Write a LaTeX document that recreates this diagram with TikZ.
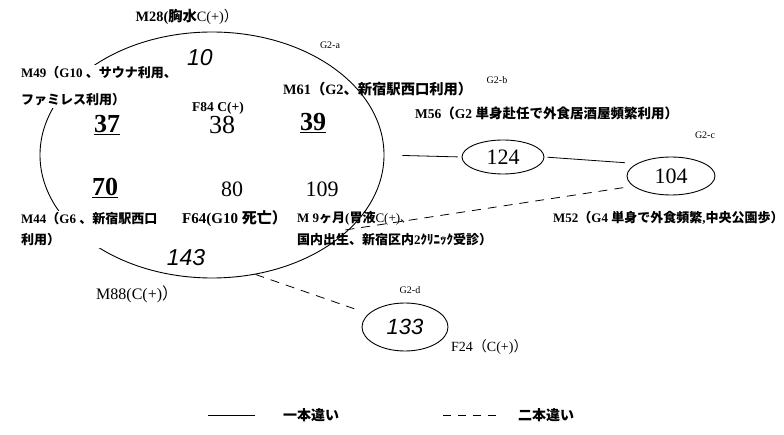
\documentclass[tikz,border=0pt]{standalone}
\usepackage{fontspec}
\setmainfont{Liberation Serif}
\newfontfamily\jp{Noto Sans CJK JP}
\newfontfamily\asf{Liberation Sans}
\usetikzlibrary{shapes.geometric}
\newcommand\J[1]{{\jp #1}}
\newcommand\fs[1]{\fontsize{#1}{#1}\selectfont}
\newcommand\fsb[2]{\fontsize{#1}{#2}\selectfont}
\begin{document}
\begin{tikzpicture}[x=1pt,y=-1pt,
  lbl/.style={inner sep=0pt, font=\fs{13.5}\bfseries, anchor=west},
  lblr/.style={inner sep=0pt, font=\fs{14}, anchor=west},
  grp/.style={inner sep=0pt, font=\fs{10}},
  bignum/.style={inner sep=0pt, font=\fs{26}},
  midnum/.style={inner sep=0pt, font=\fs{22}},
  itnum/.style={inner sep=0pt, font=\asf\itshape\fs{23}},
  oval/.style={ellipse, draw, line width=0.9pt, inner sep=0pt},
  conn/.style={line width=0.8pt},
  dconn/.style={line width=0.8pt, dash pattern=on 9pt off 7pt},
  legtext/.style={inner sep=0pt, font=\jp\bfseries\fs{14}, anchor=west}
]
\useasboundingbox (0,0) rectangle (784,435);

% ovals
\node[oval, minimum width=344pt, minimum height=246pt] (big) at (212,155) {};
\node[oval, minimum width=82pt, minimum height=34pt] (n124) at (503,157) {};
\node[oval, minimum width=88pt, minimum height=38pt] (n104) at (671,176) {};
\node[oval, minimum width=86pt, minimum height=48pt] (n133) at (405,327) {};

% numbers
\node[itnum] (t10) at (200,58) {10};
\node[bignum, font=\fs{26}\bfseries] (t37) at (107,125) {\underline{37}};
\node[bignum] (t38) at (222,125) {38};
\node[bignum, font=\fs{26}\bfseries] (t39) at (313,123) {\underline{39}};
\node[bignum, font=\fs{26}\bfseries] (t70) at (105,188) {\underline{70}};
\node[midnum] (t80) at (232,189) {80};
\node[midnum] (t109) at (322,189) {109};
\node[itnum] (t143) at (186,258) {143};
\node[midnum] (t124) at (n124) {124};
\node[midnum] (t104) at (n104) {104};
\node[itnum, font=\asf\itshape\fs{22}] (t133) at (n133) {133};

% group labels
\node[grp] (ga) at (330,45) {G2-a};
\node[grp] (gb) at (497,80) {G2-b};
\node[grp] (gc) at (705,135) {G2-c};
\node[grp] (gd) at (410,290) {G2-d};

% labels
\node[lbl, anchor=center, font=\fs{14.3}\bfseries] (m28) at (187,17) {M28(\J{胸水}\mdseries C(+)\J{）}};
\node[lbl, fill=white, inner sep=2pt, align=left, font=\fsb{13}{27}\bfseries] (m49) at (19,86.5)
  {M49\J{（}G10 \J{、サウナ利用、}\\\J{ファミレス利用）}};
\node[lbl, anchor=center] (f84) at (218,108) {F84 C(+)};
\node[lbl, font=\fs{14.3}\bfseries] (m61) at (283,89) {M61\J{（}G2\J{、新宿駅西口利用）}};
\node[lbl, font=\fs{13.5}\bfseries] (m56) at (415,113) {M56\J{（}G2 \J{単身赴任で外食居酒屋頻繁利用）}};
\node[lbl, fill=white, inner sep=2pt, align=left, font=\fsb{13}{21}\bfseries] (m44) at (19,229.5)
  {M44\J{（}G6 \J{、新宿駅西口}\\\J{利用）}};
\node[lbl, font=\fs{15}\bfseries] (f64) at (182,219) {F64(G10 \J{死亡）}};
\node[lbl, align=left, font=\fsb{13}{22}\bfseries] (m9) at (297,229)
  {M 9\J{ヶ月}(\J{胃液}\mdseries C(+)\J{、}\\\J{国内出生、新宿区内}2\J{ｸﾘﾆｯｸ受診）}};
\node[lbl, font=\fs{13}\bfseries] (m52) at (553,218) {M52\J{（}G4 \J{単身で外食頻繁},\J{中央公園歩）}};
\node[lblr, font=\fs{16}] (m88) at (96,294) {M88(C(+)\J{）}};
\node[lblr] (f24) at (451,347) {F24\J{（}C(+)\J{）}};

% connectors
\coordinate (d1) at (345,230);
\draw[conn, shorten <=18pt, shorten >=4pt] (big.east) -- (n124.west);
\draw[conn, shorten <=3pt, shorten >=12pt] (n124.east) -- (n104.160);
\draw[dconn, shorten <=10pt] (n104.195) -- (d1);
\draw[dconn, shorten >=15pt] (big.290) -- (n133.160);

% legend
\coordinate (l1a) at (208,415);
\coordinate (l1b) at (255,415);
\coordinate (l2a) at (443,415);
\coordinate (l2b) at (498,415);
\draw[conn] (l1a) -- (l1b);
\draw[line width=0.8pt, dash pattern=on 8pt off 7pt] (l2a) -- (l2b);
\node[legtext] (lt1) at (283,415) {一本違い};
\node[legtext] (lt2) at (518,415) {二本違い};
\end{tikzpicture}
\end{document}
